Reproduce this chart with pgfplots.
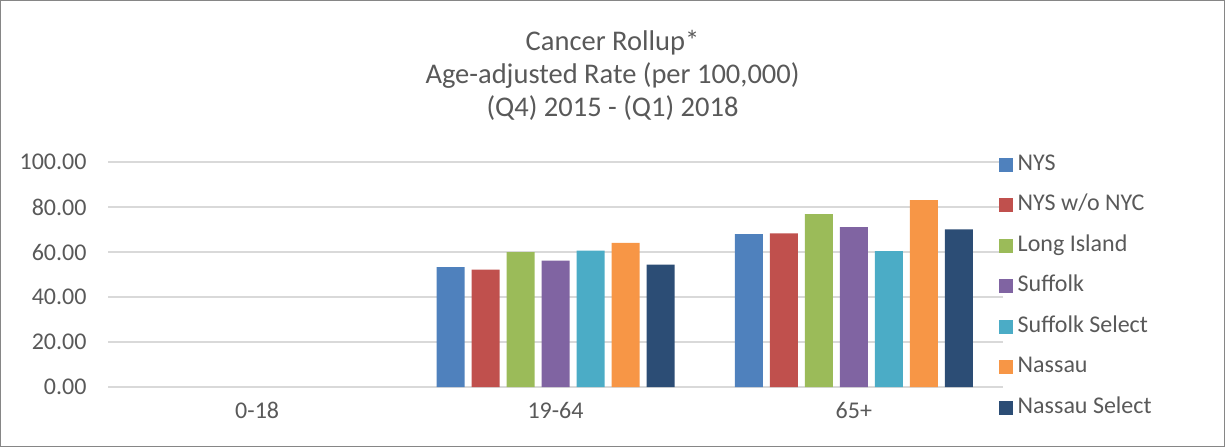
\documentclass[border=0pt]{standalone}
\usepackage{fontspec}
\setmainfont{Carlito}
\usepackage{pgfplots}
\pgfplotsset{compat=1.18}
\definecolor{cNYS}{HTML}{4F81BD}
\definecolor{cNYSwo}{HTML}{C0504D}
\definecolor{cLI}{HTML}{9BBB59}
\definecolor{cSuf}{HTML}{8064A2}
\definecolor{cSufS}{HTML}{4BACC6}
\definecolor{cNas}{HTML}{F79646}
\definecolor{cNasS}{HTML}{2C4D75}
\definecolor{txt}{HTML}{595959}
\definecolor{gridc}{HTML}{D9D9D9}
\definecolor{framec}{HTML}{868686}
\begin{document}
\begin{tikzpicture}
\draw[color=framec, line width=1pt] (0.5pt,0.5pt) rectangle (1224.5pt,446.5pt);
\node[font=\fontsize{28.5}{33}\selectfont, text=txt, align=center] at (612.5pt,372pt)
  {Cancer Rollup*\\Age-adjusted Rate (per 100,000)\\(Q4) 2015 - (Q1) 2018};
\begin{axis}[
  at={(108pt,60pt)}, anchor=south west,
  scale only axis, width=895pt, height=225pt,
  ymin=0, ymax=100, xmin=-0.5, xmax=2.5,
  xtick={0,1,2}, xticklabels={0-18,19-64,65+},
  ytick={0,20,40,60,80,100},
  ymajorgrids, grid style={color=gridc, line width=1.3pt},
  axis line style={draw=none},
  major tick length=0pt,
  ybar=7pt, bar width=28pt,
  tick label style={font=\fontsize{24}{28}\selectfont, text=txt},
  yticklabel style={xshift=-18pt},
  xticklabel style={yshift=-12pt},
  /pgf/number format/.cd, fixed, fixed zerofill, precision=2, assume math mode=true,
  /pgfplots/.cd,
  legend style={at={(0.9922,1.058)}, anchor=north west, draw=none, fill=none,
    font=\fontsize{24}{28}\selectfont, text=txt, row sep=13.5pt, column sep=2.5pt,
    nodes={inner sep=2pt, text height=17pt, text depth=6pt}},
  legend cell align=left,
  legend image code/.code={\fill[#1,draw=none] (0pt,-7pt) rectangle (14pt,7pt);},
]
\addplot[fill=cNYS, draw=none] coordinates {(1,53.3) (2,67.9)};
\addplot[fill=cNYSwo, draw=none] coordinates {(1,52.2) (2,68.3)};
\addplot[fill=cLI, draw=none] coordinates {(1,59.9) (2,76.8)};
\addplot[fill=cSuf, draw=none] coordinates {(1,56.2) (2,71.1)};
\addplot[fill=cSufS, draw=none] coordinates {(1,60.6) (2,60.4)};
\addplot[fill=cNas, draw=none] coordinates {(1,64.0) (2,83.1)};
\addplot[fill=cNasS, draw=none] coordinates {(1,54.4) (2,70.1)};
\legend{NYS, NYS w/o NYC, Long Island, Suffolk, Suffolk Select, Nassau, Nassau Select}
\end{axis}
\end{tikzpicture}
\end{document}
